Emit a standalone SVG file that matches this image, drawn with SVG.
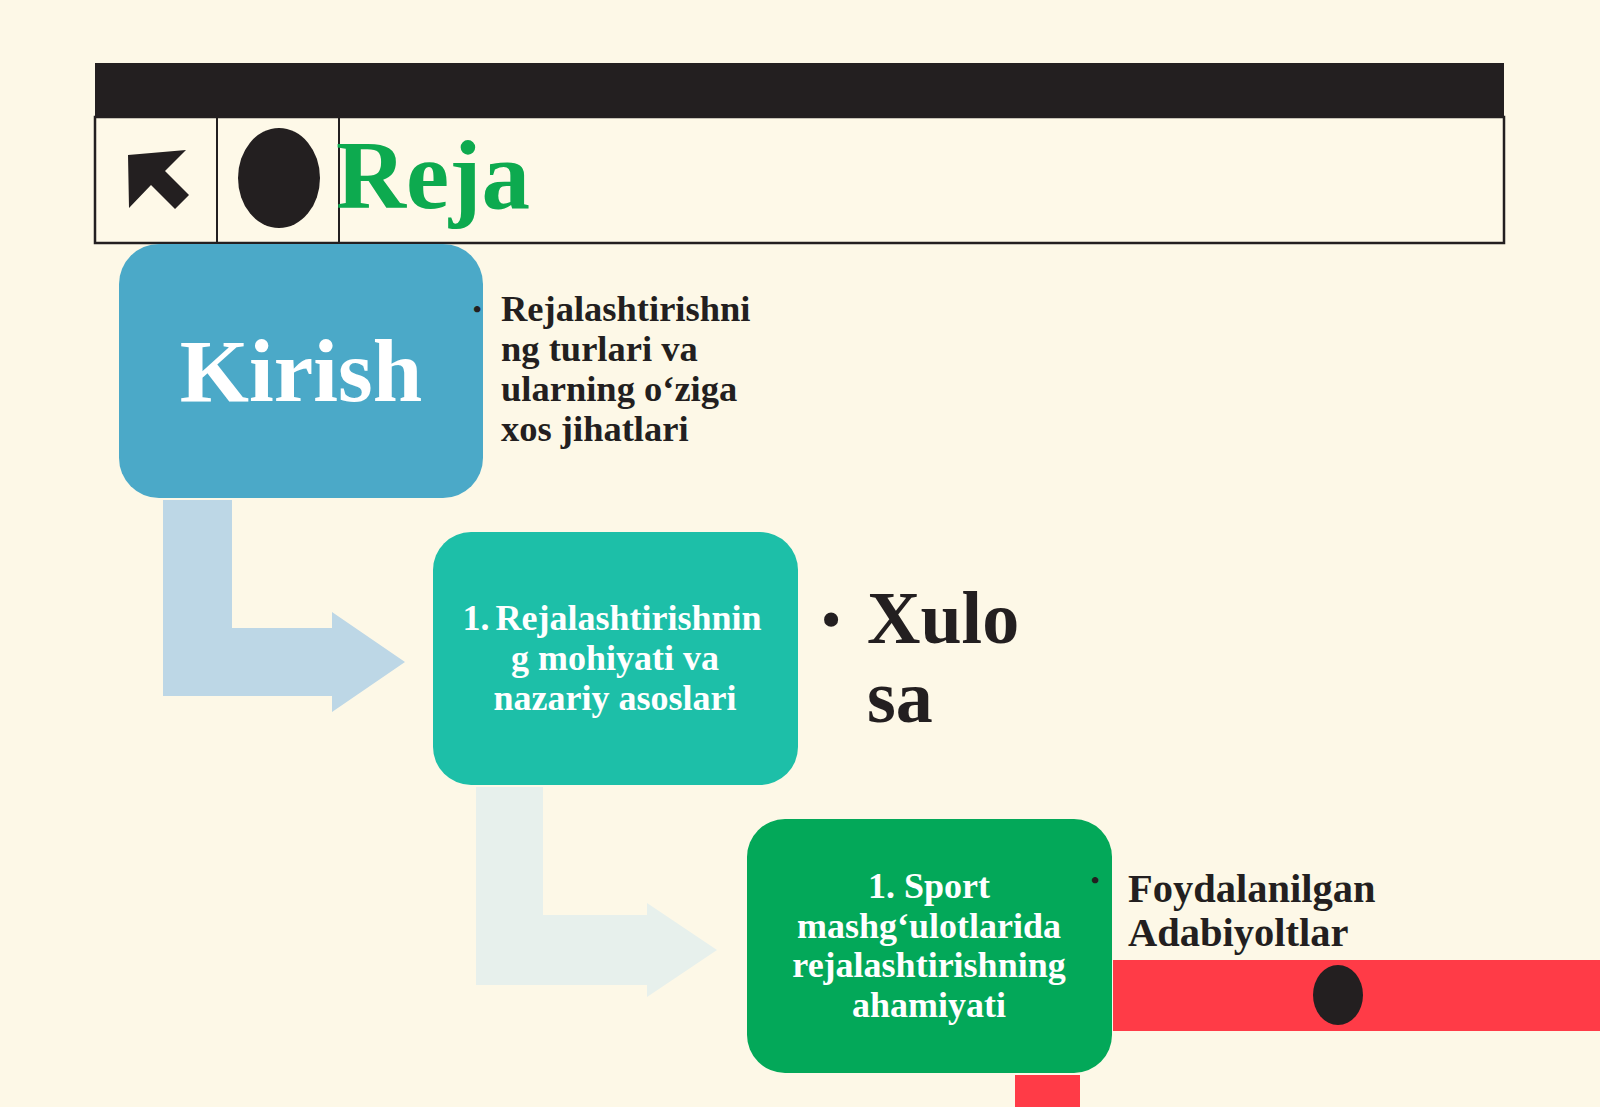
<svg xmlns="http://www.w3.org/2000/svg" width="1600" height="1107" viewBox="0 0 1600 1107">
  <style>
    .t { font-family: "Liberation Serif", "Times New Roman", serif; font-weight: bold; }
    .dark { fill: #231F20; }
    .white { fill: #FFFFFF; }
    .box-text { font-size: 36px; text-anchor: middle; }
    .side { font-size: 36.5px; }
  </style>
  <rect x="0" y="0" width="1600" height="1107" fill="#FDF8E7"/>

  <g id="header">
    <rect x="95" y="63" width="1409" height="54" fill="#231F20"/>
    <rect x="95" y="117" width="1409" height="126" fill="#FEF9E8" stroke="#231F20" stroke-width="2.5"/>
    <line x1="217" y1="117" x2="217" y2="243" stroke="#231F20" stroke-width="2"/>
    <line x1="339" y1="117" x2="339" y2="243" stroke="#231F20" stroke-width="2"/>
    <polygon points="128,155 186,150 165,171 189,195 175,209 151,185 129,208" fill="#231F20"/>
    <ellipse cx="279" cy="178" rx="41" ry="50" fill="#231F20"/>
    <text class="t" x="336" y="208" font-size="97" fill="#0DAA4F">Reja</text>
  </g>

  <g id="connectors">
    <path d="M163,500 H232 V628 H332 V612 L405,662 L332,712 V696 H163 Z" fill="#BDD7E6"/>
    <path d="M476,787 H543 V915 H647 V903 L717,950 L647,997 V985 H476 Z" fill="#E7F0EC"/>
  </g>

  <g id="node-kirish">
    <rect x="119" y="244" width="364" height="254" rx="40" fill="#4BA9C8"/>
    <text class="t white" x="301" y="401" font-size="89" text-anchor="middle">Kirish</text>
  </g>

  <g id="note-turlari">
    <text class="t dark" x="473" y="317" font-size="24">•</text>
    <text class="t dark side" x="501" y="321">Rejalashtirishni</text>
    <text class="t dark side" x="501" y="361">ng turlari va</text>
    <text class="t dark side" x="501" y="401">ularning o‘ziga</text>
    <text class="t dark side" x="501" y="441">xos jihatlari</text>
  </g>

  <g id="node-mohiyat">
    <rect x="433" y="532" width="365" height="253" rx="38" fill="#1DBFA8"/>
    <text class="t white box-text" x="612" y="630">1.<tspan dx="6">Rejalashtirishnin</tspan></text>
    <text class="t white box-text" x="615" y="670">g mohiyati va</text>
    <text class="t white box-text" x="615" y="710">nazariy asoslari</text>
  </g>

  <g id="note-xulosa">
    <text class="t dark" x="822" y="637" font-size="52">•</text>
    <text class="t dark" x="867" y="643" font-size="74">Xulo</text>
    <text class="t dark" x="867" y="722" font-size="74">sa</text>
  </g>

  <g id="node-sport">
    <rect x="747" y="819" width="365" height="254" rx="38" fill="#03A859"/>
    <text class="t white box-text" x="929" y="898">1. Sport</text>
    <text class="t white box-text" x="929" y="938">mashg‘ulotlarida</text>
    <text class="t white box-text" x="929" y="977">rejalashtirishning</text>
    <text class="t white box-text" x="929" y="1017">ahamiyati</text>
  </g>

  <g id="note-adabiyot">
    <text class="t dark" x="1091" y="888" font-size="24">•</text>
    <text class="t dark" x="1128" y="902" font-size="40.5">Foydalanilgan</text>
    <text class="t dark" x="1128" y="946" font-size="40.5">Adabiyoltlar</text>
  </g>

  <g id="decor-red">
    <rect x="1113" y="960" width="487" height="71" fill="#FF3B47"/>
    <ellipse cx="1338" cy="995" rx="25" ry="30" fill="#231F20"/>
    <rect x="1015" y="1075" width="65" height="32" fill="#FF3B47"/>
  </g>
</svg>
